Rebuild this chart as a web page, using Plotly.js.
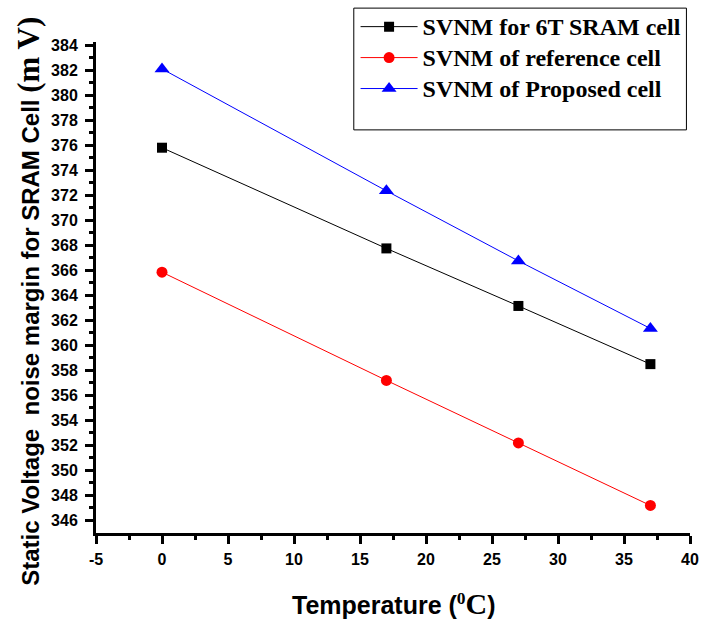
<!DOCTYPE html>
<html>
<head>
<meta charset="utf-8">
<script src="https://cdn.plot.ly/plotly-3.0.1.min.js"></script>
<style>html,body{margin:0;padding:0;background:#fff}#chart{width:702px;height:624px}</style>
</head>
<body>
<div id="chart"></div>
<script>
const temperature = [0, 17, 27, 37];
const svnm6T = [375.8, 367.75, 363.15, 358.5];
const svnmReference = [365.85, 357.2, 352.2, 347.2];
const svnmProposed = [382.1, 372.35, 366.75, 361.35];
const seriesNames = ["SVNM for 6T SRAM cell", "SVNM of reference cell", "SVNM of Proposed cell"];
const xTicks = [-5, 0, 5, 10, 15, 20, 25, 30, 35, 40];
const yTicks = [346,348,350,352,354,356,358,360,362,364,366,368,370,372,374,376,378,380,382,384];

const legendLabel = s => '<b><span style="font-size:24px">' + s + '</span></b>';
const traces = [
  {x: temperature, y: svnm6T, name: legendLabel(seriesNames[0]), mode: 'lines+markers',
   line: {color: '#000000', width: 1}, marker: {symbol: 'square', size: 10, color: '#000000'}},
  {x: temperature, y: svnmReference, name: legendLabel(seriesNames[1]), mode: 'lines+markers',
   line: {color: '#ff0000', width: 1}, marker: {symbol: 'circle', size: 11, color: '#ff0000'}},
  {x: temperature, y: svnmProposed, name: legendLabel(seriesNames[2]), mode: 'lines+markers',
   line: {color: '#0000ff', width: 1}, marker: {symbol: 'triangle-up', size: 13, color: '#0000ff'}}
];

const axisFont = {family: 'Liberation Sans, Arial, sans-serif', size: 16, color: '#000'};
const layout = {
  width: 702, height: 624,
  margin: {l: 96, r: 12, t: 42, b: 91, autoexpand: false},
  paper_bgcolor: '#fff', plot_bgcolor: '#fff',
  showlegend: true,
  legend: {x: 0.437, y: 1.073, xanchor: 'left', yanchor: 'top',
    font: {family: 'Liberation Serif, Times New Roman, serif', size: 21.5, color: '#000'},
    bgcolor: 'rgba(0,0,0,0)', borderwidth: 0, tracegroupgap: 0, itemwidth: 57},
  xaxis: {range: [-5, 40], tickvals: xTicks, ticktext: xTicks.map(v => '<b>' + v + '</b>'),
    showgrid: false, zeroline: false, showline: true, linecolor: '#000', linewidth: 3,
    ticks: 'outside', ticklen: 8, tickwidth: 3, tickcolor: '#000', tickfont: axisFont, ticklabelstandoff: 2,
    minor: {tickvals: xTicks.slice(0, -1).map(v => v + 2.5), ticks: 'outside', ticklen: 4, tickwidth: 3, tickcolor: '#000', showgrid: false}},
  yaxis: {range: [345, 384.25], tickvals: yTicks, ticktext: yTicks.map(v => '<b>' + v + '</b>'),
    showgrid: false, zeroline: false, showline: true, linecolor: '#000', linewidth: 3,
    ticks: 'outside', ticklen: 8, tickwidth: 3, tickcolor: '#000', tickfont: axisFont, ticklabelstandoff: 4,
    minor: {tickvals: yTicks.map(v => v + 1), ticks: 'outside', ticklen: 4, tickwidth: 3, tickcolor: '#000', showgrid: false}},
  annotations: [
    {xref: 'paper', yref: 'paper', x: 0.501, y: -0.143, xanchor: 'center', yanchor: 'middle', showarrow: false,
     text: '<b>Temperature (<sup><span style="font-family:Liberation Serif">0</span></sup><span style="font-family:Liberation Serif;font-size:30px">C</span>)</b>',
     font: {family: 'Liberation Sans, Arial, sans-serif', size: 25, color: '#000'}},
    {xref: 'paper', yref: 'paper', x: -0.114, y: 0.4715, xanchor: 'center', yanchor: 'middle', showarrow: false, textangle: -90,
     text: '<b>Static Voltage  noise margin for SRAM Cell <span style="font-family:Liberation Serif;font-size:31px">(m V)</span></b>',
     font: {family: 'Liberation Sans, Arial, sans-serif', size: 24, color: '#000'}}
  ],
  shapes: [{type: 'rect', xref: 'paper', yref: 'paper', x0: 0.434, x1: 0.994, y0: 0.821, y1: 1.069,
    line: {color: '#000', width: 1}, fillcolor: 'rgba(0,0,0,0)'}]
};

Plotly.newPlot('chart', traces, layout, {displayModeBar: false, staticPlot: true});
</script>
</body>
</html>
